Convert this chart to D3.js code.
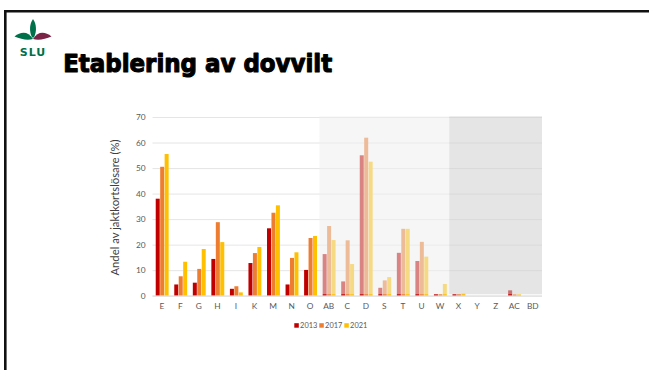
<!DOCTYPE html>
<html>
<head>
<meta charset="utf-8">
<script src="https://cdn.jsdelivr.net/npm/d3@7"></script>
<style>
  html, body { margin: 0; padding: 0; background: #fff; }
  svg { display: block; }
</style>
</head>
<body>
<svg id="slide" width="649" height="370"></svg>
<script>
// Categories (areas) along the x axis
const categories = ["E","F","G","H","I","K","M","N","O","AB","C","D","S","T","U","W","X","Y","Z","AC","BD"];
// Share of hunting licence holders (%) per survey year
const years = ["2013", "2017", "2021"];
const values2013 = [38.0, 4.4, 5.1, 14.4, 2.7, 12.8, 26.4, 4.4, 10.1, 16.3, 5.6, 55.0, 3.1, 16.8, 13.6, 0.6, 0.6, 0, 0, 2.1, 0];
const values2017 = [50.5, 7.6, 10.5, 28.8, 3.7, 16.7, 32.5, 14.8, 22.6, 27.3, 21.7, 61.9, 6.0, 26.2, 21.1, 0.6, 0.6, 0, 0, 0.5, 0];
const values2021 = [55.5, 13.3, 18.3, 21.0, 1.3, 19.1, 35.4, 17.0, 23.4, 21.8, 12.4, 52.5, 7.3, 26.2, 15.3, 4.6, 0.8, 0, 0, 0.5, 0];
const yTicks = [0, 10, 20, 30, 40, 50, 60, 70];
// Shaded category ranges (first, last)
const shadeLight = ["AB", "W"];
const shadeDark = ["X", "BD"];

const colors = ["#c00000", "#ed7d31", "#ffc000"];
const series = [values2013, values2017, values2021];

const svg = d3.select("#slide");

// Slide frame
svg.append("path")
  .attr("d", "M5.3,375 L5.3,11.3 L655,11.3")
  .attr("fill", "none").attr("stroke", "#111").attr("stroke-width", 2.6);

// Logo
const logo = svg.append("g");
logo.append("path")
  .attr("d", "M33,19 C36.5,24 37,31 34,37.5 L32,37.5 C29,31 29.5,24 33,19 Z")
  .attr("fill", "#00704a");
logo.append("path")
  .attr("d", "M33,39 C28,31 21,31.5 14.5,36.5 C21,39.5 28,40.5 33,39 Z")
  .attr("fill", "#00704a");
logo.append("path")
  .attr("d", "M33,39 C38,31 45,31.5 51.5,36.5 C45,39.5 38,40.5 33,39 Z")
  .attr("fill", "#7b2346");
logo.append("text")
  .attr("x", 33).attr("y", 55.5)
  .attr("text-anchor", "middle")
  .attr("font-family", "DejaVu Sans, sans-serif")
  .attr("font-weight", "bold").attr("font-size", 11)
  .attr("letter-spacing", 1)
  .attr("fill", "#00704a")
  .text("SLU");

// Title
svg.append("text")
  .attr("x", 63.2).attr("y", 71.5)
  .attr("font-family", "DejaVu Sans, sans-serif")
  .attr("font-weight", "bold").attr("font-size", 24.5)
  .attr("textLength", 269).attr("lengthAdjust", "spacingAndGlyphs")
  .attr("fill", "#000").attr("stroke", "#000").attr("stroke-width", 1.1)
  .attr("stroke-linejoin", "round")
  .text("Etablering av dovvilt");

// Chart
const x = d3.scaleBand().domain(categories).range([152.5, 542]).paddingInner(0).paddingOuter(0);
const y = d3.scaleLinear().domain([0, 70]).range([295.7, 117]);
const bw = x.bandwidth();

const chart = svg.append("g");

// Gridlines
const grid = chart.append("g")
  .attr("transform", `translate(${x.range()[0]},0)`)
  .call(d3.axisLeft(y).tickValues(yTicks).tickSize(-(x.range()[1] - x.range()[0])).tickFormat(""));
grid.select(".domain").remove();
grid.selectAll("line").attr("stroke", "#dedede").attr("stroke-width", 0.8);

// Bars
const barW = 4.0, gap = 0.45;
const groupW = 3 * barW + 2 * gap;
series.forEach((vals, si) => {
  chart.append("g").selectAll("rect")
    .data(categories.map((c, i) => ({ c, v: vals[i] })))
    .join("rect")
    .attr("x", d => x(d.c) + bw / 2 - groupW / 2 + si * (barW + gap) + 0.4)
    .attr("width", barW)
    .attr("y", d => y(d.v))
    .attr("height", d => y(0) - y(d.v))
    .attr("fill", colors[si]);
});

// Shaded overlays
const shadeTop = y(70) - 0.7;
const shadeBottom = y(0) - 1.4;
chart.append("rect")
  .attr("x", x(shadeLight[0])).attr("y", shadeTop)
  .attr("width", x(shadeLight[1]) + bw - x(shadeLight[0]))
  .attr("height", shadeBottom - shadeTop)
  .attr("fill", "rgb(238,238,238)").attr("fill-opacity", 0.55);
chart.append("rect")
  .attr("x", x(shadeDark[0])).attr("y", shadeTop)
  .attr("width", x(shadeDark[1]) + bw - x(shadeDark[0]))
  .attr("height", shadeBottom - shadeTop)
  .attr("fill", "rgb(208,208,208)").attr("fill-opacity", 0.55);

// Baseline
chart.append("line")
  .attr("x1", x.range()[0]).attr("x2", x.range()[1])
  .attr("y1", y(0) + 0.3).attr("y2", y(0) + 0.3)
  .attr("stroke", "#d9d9d9").attr("stroke-width", 0.9);

// Y axis labels
const yAxis = chart.append("g")
  .attr("transform", "translate(145.5,0)")
  .call(d3.axisLeft(y).tickValues(yTicks).tickSize(0).tickPadding(0));
yAxis.select(".domain").remove();
yAxis.selectAll("text")
  .attr("font-family", "Lato, sans-serif").attr("font-size", 8.3).attr("fill", "#595959");

// X axis labels
const xAxis = chart.append("g")
  .attr("transform", `translate(0,${y(0)})`)
  .call(d3.axisBottom(x).tickSize(0).tickPadding(7.5));
xAxis.select(".domain").remove();
xAxis.selectAll("text")
  .attr("font-family", "Lato, sans-serif").attr("font-size", 8.3).attr("fill", "#595959");

// Y axis title
svg.append("text")
  .attr("transform", "translate(119,207.5) rotate(-90)")
  .attr("text-anchor", "middle")
  .attr("font-family", "Lato, sans-serif").attr("font-size", 11.3)
  .attr("fill", "#404040")
  .text("Andel av jaktkortslösare (%)");

// Legend
const legend = svg.append("g");
years.forEach((yr, i) => {
  const lx = 294.3 + i * 25;
  legend.append("rect")
    .attr("x", lx).attr("y", 323.2).attr("width", 4.5).attr("height", 4.5)
    .attr("fill", colors[i]);
  legend.append("text")
    .attr("x", lx + 5.8).attr("y", 328.2)
    .attr("font-family", "Lato, sans-serif").attr("font-size", 7.4)
    .attr("fill", "#595959")
    .text(yr);
});
</script>
</body>
</html>
